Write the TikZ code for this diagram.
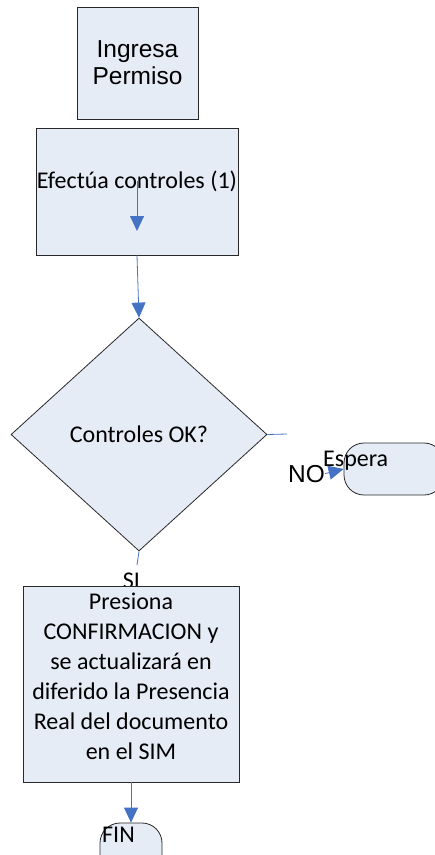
\documentclass[tikz,border=0pt]{standalone}
\usepackage{fontspec}
\setmainfont{Carlito}
\newfontfamily\arialfont{Liberation Sans}
\usetikzlibrary{positioning}
\usetikzlibrary{shapes.geometric}
\usetikzlibrary{arrows.meta}
\definecolor{boxfill}{RGB}{230,236,246}
\definecolor{linkblue}{RGB}{68,114,196}
\definecolor{edgegray}{RGB}{40,40,40}

\begin{document}
\begin{tikzpicture}[x=1pt, y=-1pt,
  txt/.style={font=\fontsize{24}{30}\selectfont, inner sep=0pt},
  proc/.style={draw=edgegray, fill=boxfill, line width=0.8pt, inner sep=0pt, align=center},
  term/.style={draw=edgegray, fill=boxfill, line width=0.8pt, rounded corners=20pt, inner sep=0pt},
  decision/.style={diamond, draw=edgegray, fill=boxfill, line width=0.8pt, inner sep=0pt},
  link/.style={draw=linkblue, line width=0.8pt},
  arr/.style={link, -{Triangle[width=14pt,length=15pt]}}]

  \clip (0,0) rectangle (435,855);

  % Boxes
  \node[proc, minimum width=121pt, minimum height=112pt,
        font=\arialfont\fontsize{24.5}{27}\selectfont] (ingresa) at (137.5,63) {Ingresa\\Permiso};
  \node[proc, txt, minimum width=202pt, minimum height=127pt,
        text height=16pt, text depth=23pt] (efectua) at (137,191.5) {Efectúa controles (1)};
  \node[decision, txt, minimum width=256pt, minimum height=233pt] (controles) at (139,434.5) {Controles OK?};

  % SI sits under the next box
  \node[txt, anchor=base] (si) at (131.5,588) {SI};
  \node[proc, txt, minimum width=216pt, minimum height=196pt, text depth=16pt] (presiona) at (131,684)
    {Presiona\\CONFIRMACION y\\se actualizará en\\diferido la Presencia\\Real del documento\\en el SIM};

  % Terminals
  \node[term, minimum width=100pt, minimum height=52pt] (espera) at (394,469) {};
  \node[txt, anchor=base west] (esperatxt) at (323,466) {Espera};
  \node[txt, font=\arialfont\fontsize{24.5}{27}\selectfont, anchor=base west] (no) at (288,482) {NO};
  \node[term, minimum width=62pt, minimum height=52pt] (fin) at (131,849) {};
  \node[txt, anchor=base west] (fintxt) at (102,842) {FIN};

  % Links
  \coordinate (inA) at (137,181);
  \coordinate (inB) at (137,231);
  \draw[arr] (inA) -- (inB);
  \draw[arr] (efectua.south) -- (controles.north);
  \coordinate (noend) at (287,434);
  \draw[link] (controles.east) -- (noend);
  \coordinate (siend) at (137,565);
  \draw[link] (controles.south) -- (siend);
  \draw[arr] (no.east) -- (espera.west);
  \draw[arr] (presiona.south) -- (fin.north);
\end{tikzpicture}
\end{document}
